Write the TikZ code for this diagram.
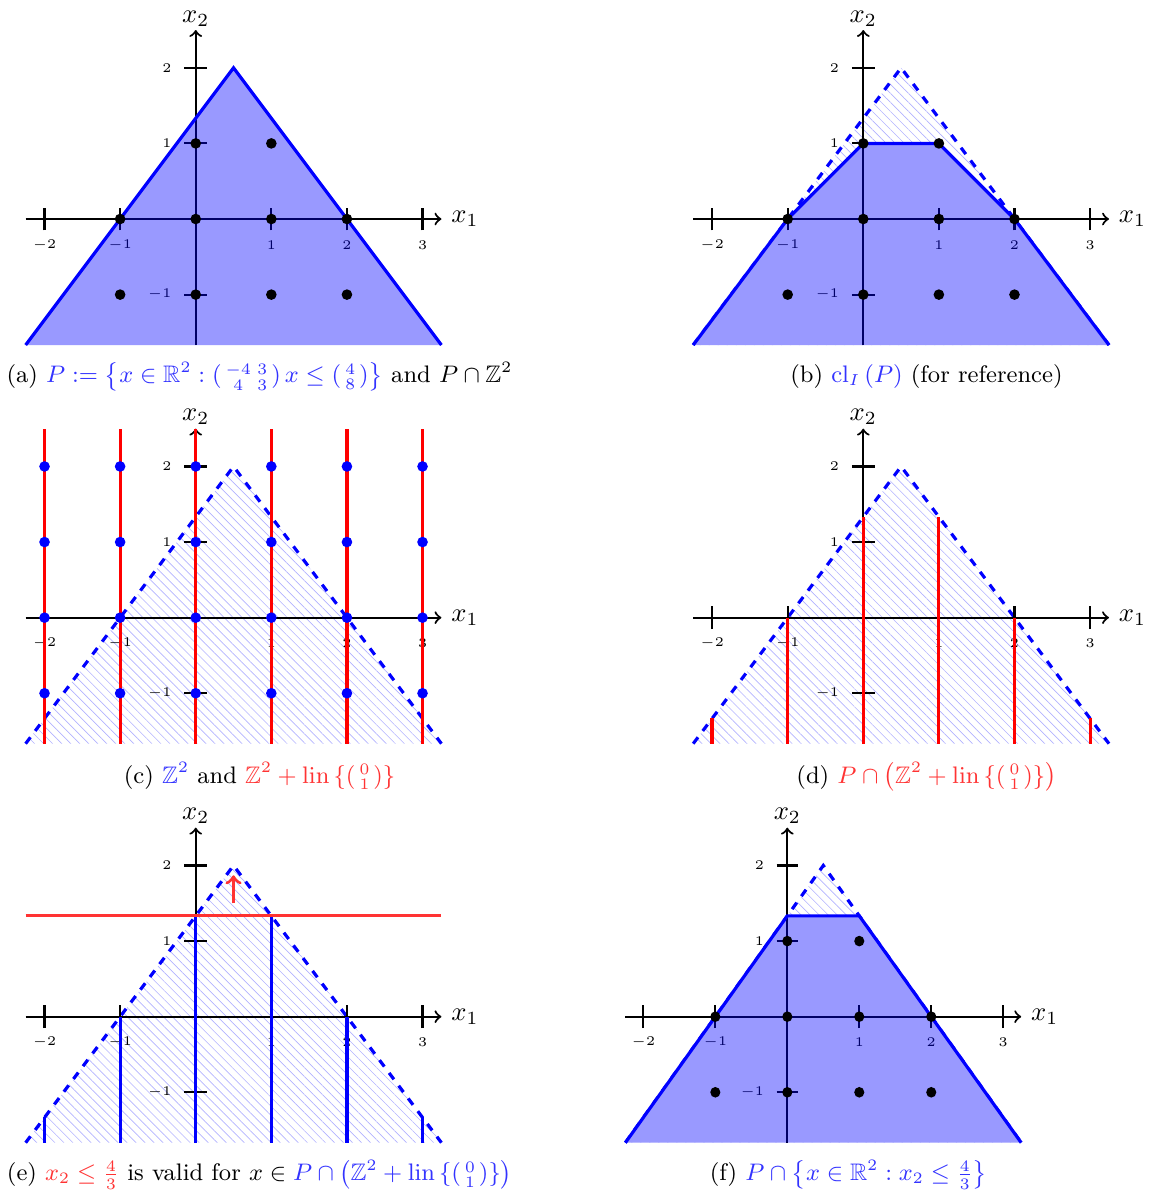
\documentclass[tikz,border=0pt]{standalone}
\usepackage{amsmath}
\usepackage{amssymb}
\usepackage{tikz}
\usetikzlibrary{patterns.meta}

\colorlet{capblue}{blue!80}
\colorlet{capred}{red!80}

% axes with ticks, shared by all panels
\newcommand{\coordaxes}{%
  \draw[axisline, ->] (-2.25,0) -- (3.25,0) node[right] (xlab) {$x_1$};
  \draw[axisline, ->] (0,-5/3) -- (0,2.5) node[above, inner sep=1pt] (ylab) {$x_2$};
  \foreach \k in {-2,-1,1,2,3} {
    \draw[axisline] (\k,-0.15) -- (\k,0.15);
    \node[ticklab] (xt\k) at (\k,-0.34) {$\k$};
  }
  \foreach \k in {-1,1,2} {
    \draw[axisline] (-0.15,\k) -- (0.15,\k);
    \node[ticklab, anchor=east] (yt\k) at (-0.28,\k) {$\k$};
  }
}
% hatched P with dashed boundary
\newcommand{\hatchP}{%
  \fill[hatched] (-2.25,-5/3) -- (0.5,2) -- (3.25,-5/3) -- cycle;
  \draw[polydash] (-2.25,-5/3) -- (0.5,2) -- (3.25,-5/3);
}
% integer points of P
\newcommand{\intpts}{%
  \foreach \i/\j in {-1/0,0/0,1/0,2/0,0/1,1/1,-1/-1,0/-1,1/-1,2/-1}
    \fill (\i,\j) circle (2pt);
}

\begin{document}
\begin{tikzpicture}[
    axisline/.style={thick},
    ticklab/.style={font=\tiny, inner sep=1pt},
    polyfill/.style={fill=blue, fill opacity=0.4},
    polyline/.style={blue, very thick},
    polydash/.style={blue, very thick, dashed},
    hatched/.style={pattern={Lines[angle=-45, distance=2.4pt, line width=0.25pt]}, pattern color=blue!30},
    raybar/.style={red, very thick},
    subcap/.style={anchor=base, inner sep=0pt, font=\small}
]
    \useasboundingbox (0,0) rectangle (15.198,-15.82);

    % (a) the polyhedron P
    \begin{scope}[shift={(2.589,-2.897)}, name prefix=a-]
        \coordaxes
        \fill[polyfill] (-2.25,-5/3) -- (0.5,2) -- (3.25,-5/3) -- cycle;
        \draw[polyline] (-2.25,-5/3) -- (0.5,2) -- (3.25,-5/3);
        \intpts
    \end{scope}

    % (b) integer hull
    \begin{scope}[shift={(11.419,-2.897)}, name prefix=b-]
        \hatchP
        \fill[white] (-2.25,-5/3) -- (-1,0) -- (0,1) -- (1,1) -- (2,0) -- (3.25,-5/3) -- cycle;
        \coordaxes
        \fill[polyfill] (-2.25,-5/3) -- (-1,0) -- (0,1) -- (1,1) -- (2,0) -- (3.25,-5/3) -- cycle;
        \draw[polyline] (-2.25,-5/3) -- (-1,0) -- (0,1) -- (1,1) -- (2,0) -- (3.25,-5/3);
        \intpts
    \end{scope}

    % (c) lattice and vertical lines
    \begin{scope}[shift={(2.589,-8.170)}, name prefix=c-]
        \hatchP
        \coordaxes
        \foreach \i in {-2,...,3}
            \draw[raybar] (\i,-5/3) -- (\i,2.5);
        \foreach \i in {-2,...,3}
            \foreach \j in {-1,...,2}
                \fill[blue] (\i,\j) circle (2pt);
    \end{scope}

    % (d) lines cut by P
    \begin{scope}[shift={(11.419,-8.170)}, name prefix=d-]
        \hatchP
        \coordaxes
        \foreach \i/\t in {-2/-1.3333,-1/0,0/1.3333,1/1.3333,2/0,3/-1.3333}
            \draw[raybar] (\i,-5/3) -- (\i,\t);
    \end{scope}

    % (e) valid cut x2 <= 4/3
    \begin{scope}[shift={(2.589,-13.448)}, name prefix=e-]
        \hatchP
        \coordaxes
        \foreach \i/\t in {-2/-1.3333,-1/0,0/1.3333,1/1.3333,2/0,3/-1.3333}
            \draw[polyline] (\i,-5/3) -- (\i,\t);
        \draw[capred, very thick] (-2.25,4/3) -- (3.25,4/3);
        \draw[capred, very thick, ->] (0.5,1.5) -- (0.5,1.87);
    \end{scope}

    % (f) P after the cut
    \begin{scope}[shift={(10.414,-13.448)}, xscale=0.952, name prefix=f-]
        \hatchP
        \fill[white] (-2.25,-5/3) -- (0,4/3) -- (1,4/3) -- (3.25,-5/3) -- cycle;
        \coordaxes
        \fill[polyfill] (-2.25,-5/3) -- (0,4/3) -- (1,4/3) -- (3.25,-5/3) -- cycle;
        \draw[polyline] (-2.25,-5/3) -- (0,4/3) -- (1,4/3) -- (3.25,-5/3);
        \intpts
    \end{scope}

    % captions
    \node[subcap] (cap-a) at (3.433,-5.066) {(a) \textcolor{capblue}{$P := \left\{x\in\mathbb{R}^2 : \left(\begin{smallmatrix}-4&3\\4&3\end{smallmatrix}\right) x \le \left(\begin{smallmatrix}4\\8\end{smallmatrix}\right)\right\}$} and $P\cap\mathbb{Z}^2$};
    \node[subcap] (cap-b) at (12.255,-5.066) {(b) \textcolor{capblue}{$\mathrm{cl}_I\left(P\right)$} (for reference)};
    \node[subcap] (cap-c) at (3.433,-10.357) {(c) \textcolor{capblue}{$\mathbb{Z}^2$} and \textcolor{capred}{$\mathbb{Z}^2+\mathrm{lin}\,\{(\begin{smallmatrix}0\\1\end{smallmatrix})\}$}};
    \node[subcap] (cap-d) at (12.255,-10.357) {(d) \textcolor{capred}{$P\cap\bigl(\mathbb{Z}^2+\mathrm{lin}\,\{(\begin{smallmatrix}0\\1\end{smallmatrix})\}\bigr)$}};
    \node[subcap] (cap-e) at (3.433,-15.62) {(e) \textcolor{capred}{$x_2\le\frac{4}{3}$} is valid for $x\in{}$\textcolor{capblue}{$P\cap\bigl(\mathbb{Z}^2+\mathrm{lin}\,\{(\begin{smallmatrix}0\\1\end{smallmatrix})\}\bigr)$}};
    \node[subcap] (cap-f) at (11.224,-15.62) {(f) \textcolor{capblue}{$P\cap\left\{x\in\mathbb{R}^2 : x_2\le\frac{4}{3}\right\}$}};
\end{tikzpicture}
\end{document}
